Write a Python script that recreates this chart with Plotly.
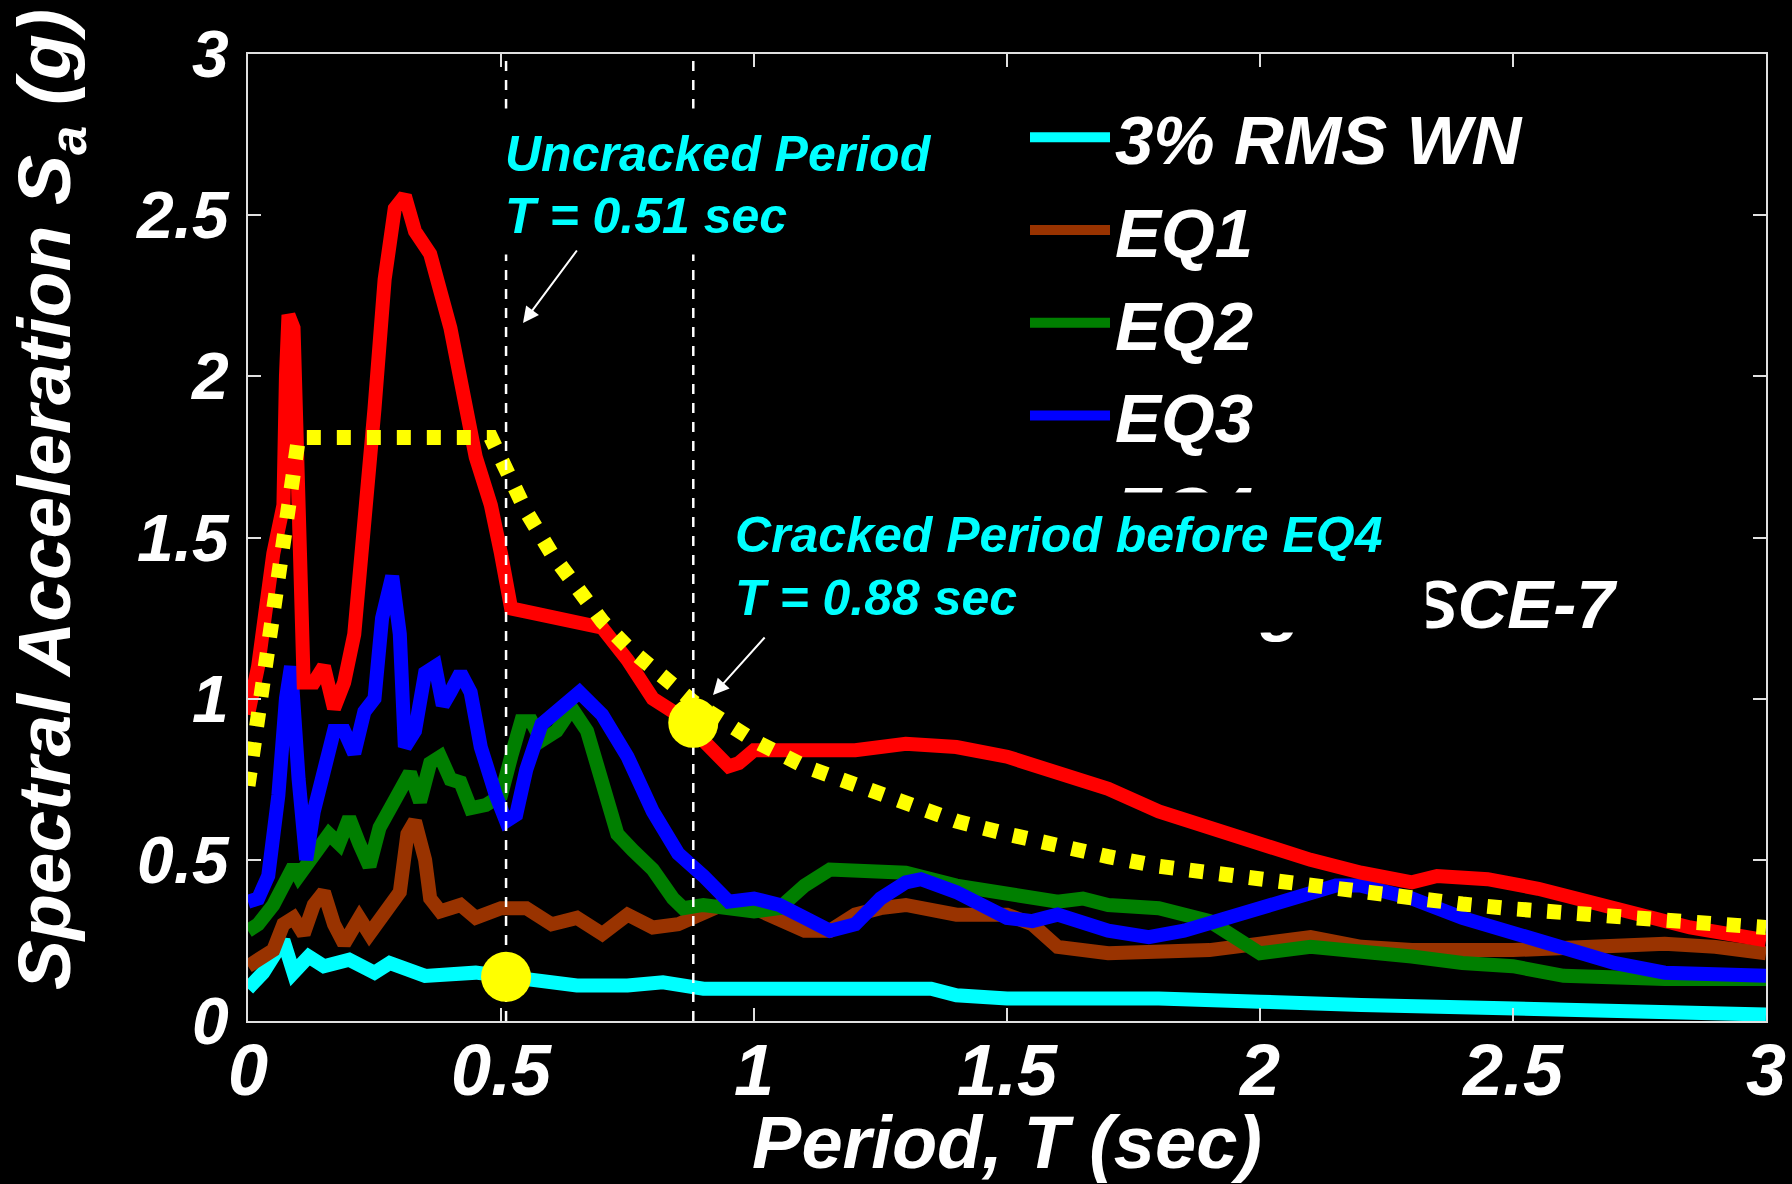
import plotly.graph_objects as go

# ---------------- data ----------------
wn_T  = [0.0, 0.03, 0.07, 0.09, 0.12, 0.15, 0.2, 0.25, 0.28, 0.32, 0.35, 0.45, 0.5, 0.55, 0.65,
         0.75, 0.82, 0.9, 1.1, 1.3, 1.35, 1.4, 1.5, 1.8, 1.9, 2.0, 2.2, 2.5, 2.7, 3.0]
wn_Sa = [0.1, 0.15, 0.25, 0.15, 0.2, 0.17, 0.19, 0.15, 0.18, 0.16, 0.14, 0.15, 0.14, 0.13, 0.11,
         0.11, 0.12, 0.1, 0.1, 0.09, 0.1, 0.08, 0.07, 0.07, 0.07, 0.06, 0.05, 0.04, 0.03, 0.02]

eq1_T  = [0.0, 0.03, 0.05, 0.07, 0.09, 0.11, 0.13, 0.15, 0.17, 0.19, 0.22, 0.24, 0.27, 0.3, 0.315,
          0.33, 0.35, 0.36, 0.38, 0.42, 0.45, 0.5, 0.55, 0.6, 0.65, 0.7, 0.75, 0.8, 0.85, 0.9,
          0.95, 1.0, 1.05, 1.1, 1.15, 1.2, 1.25, 1.3, 1.4, 1.5, 1.55, 1.6, 1.7, 1.8, 1.9, 2.0,
          2.1, 2.2, 2.3, 2.5, 2.6, 2.7, 2.8, 2.9, 3.0]
eq1_Sa = [0.17, 0.2, 0.22, 0.3, 0.32, 0.27, 0.36, 0.4, 0.3, 0.24, 0.32, 0.27, 0.33, 0.4, 0.58,
          0.62, 0.5, 0.38, 0.34, 0.36, 0.32, 0.35, 0.35, 0.3, 0.32, 0.27, 0.33, 0.29, 0.3, 0.33,
          0.37, 0.35, 0.32, 0.28, 0.28, 0.33, 0.35, 0.36, 0.33, 0.33, 0.3, 0.23, 0.21, 0.21, 0.22, 0.24,
          0.26, 0.23, 0.22, 0.22, 0.23, 0.24, 0.24, 0.23, 0.21]

eq2_T  = [0.0, 0.02, 0.05, 0.07, 0.09, 0.1, 0.12, 0.14, 0.16, 0.18, 0.2, 0.22, 0.24, 0.26, 0.28,
          0.3, 0.32, 0.34, 0.36, 0.38, 0.4, 0.42, 0.44, 0.47, 0.5, 0.52, 0.54, 0.56, 0.58, 0.61,
          0.64, 0.67, 0.7, 0.73, 0.76, 0.8, 0.84, 0.86, 0.9, 0.95, 1.0, 1.05, 1.1, 1.15, 1.2,
          1.3, 1.4, 1.5, 1.6, 1.65, 1.7, 1.8, 1.9, 1.98, 2.0, 2.1, 2.2, 2.3, 2.4, 2.5, 2.6,
          2.7, 2.8, 2.9, 3.0]
eq2_Sa = [0.28, 0.3, 0.36, 0.42, 0.48, 0.45, 0.5, 0.55, 0.58, 0.55, 0.63, 0.55, 0.48, 0.6, 0.65,
          0.72, 0.77, 0.68, 0.8, 0.82, 0.75, 0.74, 0.66, 0.67, 0.7, 0.82, 0.93, 0.93, 0.87, 0.9,
          0.97, 0.9, 0.72, 0.58, 0.53, 0.47, 0.38, 0.35, 0.36, 0.35, 0.34, 0.35, 0.42, 0.47, 0.47,
          0.46, 0.42, 0.4, 0.37, 0.38, 0.36, 0.35, 0.31, 0.23, 0.21, 0.23, 0.22, 0.2, 0.18, 0.17, 0.14,
          0.13, 0.13, 0.13, 0.13]

eq3_T  = [0.0, 0.02, 0.04, 0.06, 0.075, 0.085, 0.1, 0.115, 0.13, 0.15, 0.17, 0.19, 0.21, 0.23, 0.25,
          0.265, 0.285, 0.3, 0.31, 0.33, 0.35, 0.37, 0.385, 0.4, 0.42, 0.44, 0.46, 0.49, 0.51, 0.53,
          0.55, 0.58, 0.62, 0.655, 0.7, 0.75, 0.8, 0.85, 0.9, 0.95, 1.0, 1.05, 1.1, 1.15, 1.2,
          1.25, 1.3, 1.33, 1.4, 1.5, 1.55, 1.6, 1.7, 1.78, 1.85, 1.95, 2.05, 2.15, 2.2, 2.3, 2.4,
          2.5, 2.6, 2.7, 2.8, 2.9, 3.0]
eq3_Sa = [0.37, 0.38, 0.45, 0.7, 1.0, 1.1, 0.75, 0.5, 0.65, 0.8, 0.9, 0.9, 0.83, 0.96, 1.0,
          1.25, 1.38, 1.2, 0.85, 0.9, 1.08, 1.1, 0.98, 1.02, 1.08, 1.02, 0.85, 0.7, 0.62, 0.64,
          0.78, 0.92, 0.98, 1.02, 0.95, 0.82, 0.65, 0.52, 0.45, 0.37, 0.38, 0.36, 0.32, 0.28, 0.3,
          0.38, 0.43, 0.44, 0.4, 0.32, 0.31, 0.33, 0.28, 0.26, 0.28, 0.33, 0.38, 0.42, 0.42, 0.38, 0.32,
          0.27, 0.22, 0.18, 0.15, 0.14, 0.14]

eq4_T  = [0.0, 0.02, 0.05, 0.07, 0.075, 0.08, 0.09, 0.1, 0.105, 0.11, 0.13, 0.15, 0.17, 0.19, 0.21,
          0.23, 0.25, 0.27, 0.29, 0.31, 0.33, 0.36, 0.4, 0.45, 0.48, 0.5, 0.52, 0.55, 0.6, 0.65,
          0.7, 0.75, 0.8, 0.85, 0.9, 0.95, 0.97, 1.0, 1.1, 1.2, 1.3, 1.4, 1.5, 1.6, 1.7,
          1.8, 1.9, 2.0, 2.1, 2.2, 2.3, 2.35, 2.45, 2.55, 2.65, 2.75, 2.85, 3.0]
eq4_Sa = [0.95, 1.1, 1.45, 1.6, 2.0, 2.19, 2.15, 1.7, 1.3, 1.05, 1.05, 1.1, 0.97, 1.05, 1.2,
          1.5, 1.9, 2.3, 2.52, 2.56, 2.45, 2.38, 2.15, 1.75, 1.6, 1.45, 1.28, 1.27, 1.25, 1.24,
          1.22, 1.12, 1.0, 0.95, 0.87, 0.79, 0.8, 0.84, 0.84, 0.84, 0.86, 0.85, 0.82, 0.77, 0.72,
          0.65, 0.6, 0.54, 0.5, 0.46, 0.43, 0.45, 0.44, 0.41, 0.37, 0.33, 0.29, 0.25]

asce_T  = [0.0, 0.1, 0.48, 0.5, 0.55, 0.6, 0.65, 0.7, 0.75, 0.8, 0.88, 0.9, 1.0, 1.1, 1.2, 1.3,
           1.4, 1.5, 1.6, 1.7, 1.8, 1.9, 2.0, 2.1, 2.2, 2.3, 2.4, 2.5, 2.6, 2.7, 2.8, 2.9, 3.0]
asce_Sa = [0.73, 1.81, 1.81, 1.74, 1.58, 1.45, 1.34, 1.24, 1.16, 1.09, 0.99, 0.97, 0.87, 0.79, 0.73, 0.67,
           0.62, 0.58, 0.54, 0.51, 0.48, 0.46, 0.435, 0.415, 0.395, 0.378, 0.363, 0.348, 0.335, 0.322, 0.311, 0.3, 0.29]

period_T  = [0.51, 0.88]          # uncracked / cracked periods
period_Sa = [0.137, 0.925]        # yellow dots

series_names = ["3% RMS WN", "EQ1", "EQ2", "EQ3", "EQ4", "Design ASCE-7"]
x_ticks = [0, 0.5, 1, 1.5, 2, 2.5, 3]
x_tick_labels = ["0", "0.5", "1", "1.5", "2", "2.5", "3"]
y_ticks = [0, 0.5, 1, 1.5, 2, 2.5, 3]
y_tick_labels = ["0", "0.5", "1", "1.5", "2", "2.5", "3"]

# ---------------- layout helpers ----------------
W, H = 1792, 1184
L, R, T, B = 248, 26, 54, 163
PW, PH = W - L - R, H - T - B
def px(xp):
    return (xp - L) / PW
def py(yp):
    return (H - B - yp) / PH

FONT = "Liberation Sans, Arial, sans-serif"
def bi(size, color="white"):
    return dict(family=FONT, size=size, color=color, weight="bold", style="italic")

fig = go.Figure()
LW = 14
colors = ["#00FFFF", "#993300", "#007F00", "#0000FF", "#FF0000"]
for name, xs, ys, c in zip(series_names[:5],
                           [wn_T, eq1_T, eq2_T, eq3_T, eq4_T],
                           [wn_Sa, eq1_Sa, eq2_Sa, eq3_Sa, eq4_Sa], colors):
    fig.add_trace(go.Scatter(x=xs, y=ys, mode="lines", name=name,
                             line=dict(color=c, width=LW)))
fig.add_trace(go.Scatter(x=asce_T, y=asce_Sa, mode="lines", name=series_names[5],
                         line=dict(color="#FFFF00", width=15, dash="14px,16px")))

# dashed vertical lines at the periods
for t in period_T:
    fig.add_trace(go.Scatter(x=[t, t], y=[y_ticks[0], y_ticks[-1]], mode="lines",
                             showlegend=False, hoverinfo="skip",
                             line=dict(color="white", width=2.5, dash="10px,9px")))
fig.add_trace(go.Scatter(x=period_T, y=period_Sa, mode="markers", showlegend=False,
                         marker=dict(color="#FFFF00", size=50, line=dict(width=0))))

axis_common = dict(showline=True, linecolor="#E0E0E0", linewidth=2, mirror="ticks",
                   ticks="inside", ticklen=13, tickwidth=2, tickcolor="#E0E0E0",
                   showgrid=False, zeroline=False)
fig.update_xaxes(range=[0, 3], tickvals=x_ticks, ticktext=x_tick_labels,
                 tickfont=bi(72), ticklabelstandoff=-14,
                 title=dict(text="Period, T (sec)", font=bi(74), standoff=8),
                 **axis_common)
fig.update_yaxes(range=[0, 3], tickvals=y_ticks, ticktext=y_tick_labels,
                 tickfont=bi(66), ticklabelstandoff=4,
                 **axis_common)

annotations = []
# y-axis title (placed as in the reference, slightly above the axis centre)
annotations.append(dict(xref="paper", yref="paper", x=px(50), y=py(500), xanchor="center",
                        yanchor="middle", textangle=-90, showarrow=False,
                        text="Spectral Acceleration S<sub>a</sub> (g)", font=bi(75)))
# black boxes hiding parts of the plot / legend behind the labels
annotations.append(dict(xref="paper", yref="paper", x=px(498), y=py(108), xanchor="left", yanchor="top",
                        text=" ", showarrow=False, width=437, height=145, bgcolor="black", borderpad=0))
annotations.append(dict(xref="paper", yref="paper", x=px(728), y=py(492), xanchor="left", yanchor="top",
                        text=" ", showarrow=False, width=697, height=139, bgcolor="black", borderpad=0))
# labels
for txt, xp, yp in [("Uncracked Period", 503, 154), ("T = 0.51 sec", 503, 216),
                    ("Cracked Period before EQ4", 733, 535), ("T = 0.88 sec", 733, 598)]:
    annotations.append(dict(xref="paper", yref="paper", x=px(xp), y=py(yp), xanchor="left",
                            yanchor="middle", text=txt, showarrow=False, font=bi(50, "#00FFFF")))
# arrows
for hx, hy, ax, ay in [(523, 323, 55, -74), (713, 695, 53, -59)]:
    annotations.append(dict(xref="paper", yref="paper", x=px(hx), y=py(hy), text="",
                            showarrow=True, ax=ax, ay=ay, arrowcolor="white", arrowwidth=2,
                            arrowhead=2, arrowsize=1.6, standoff=0))

fig.update_layout(
    width=W, height=H,
    margin=dict(l=L, r=R, t=T, b=B, autoexpand=False),
    paper_bgcolor="black", plot_bgcolor="black",
    showlegend=True,
    legend=dict(x=px(1025), y=py(86), xanchor="left", yanchor="top",
                bgcolor="rgba(0,0,0,0)", borderwidth=0, font=bi(69),
                itemwidth=80, tracegroupgap=0),
    annotations=annotations,
)

fig.write_html("out.html", config={"displayModeBar": False},
               post_script="document.body.style.margin='0';document.body.style.background='black';")
